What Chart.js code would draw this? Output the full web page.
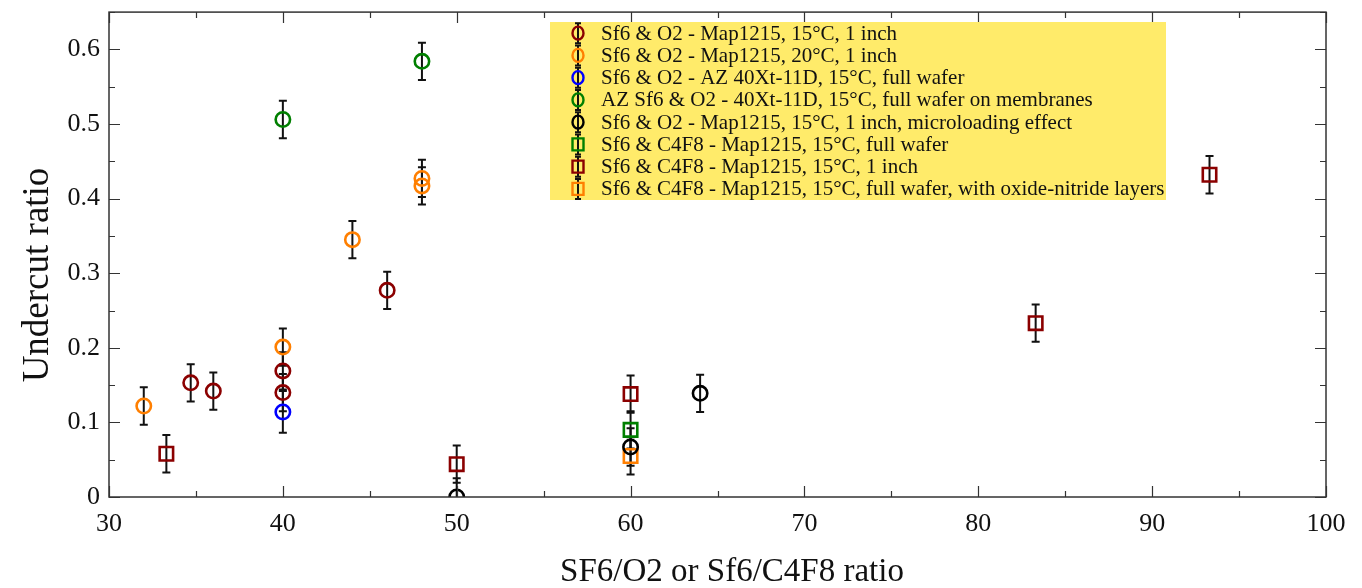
<!DOCTYPE html>
<html>
<head>
<meta charset="utf-8">
<script src="https://cdn.jsdelivr.net/npm/chart.js@4.4.1/dist/chart.umd.min.js"></script>
<style>
  html, body { margin: 0; padding: 0; background: #fff; }
  #wrap { width: 1362px; height: 588px; position: relative; }
</style>
</head>
<body>
<div id="wrap"><canvas id="chart"></canvas></div>
<script>
// values
const xLabels = [30, 40, 50, 60, 70, 80, 90, 100];
const yLabels = [0, 0.1, 0.2, 0.3, 0.4, 0.5, 0.6];

const o2_15_x = [34.7, 36, 40, 40, 46];
const o2_15_y = [0.153, 0.142, 0.169, 0.140, 0.277];
const o2_15_err = [0.025, 0.025, 0.025, 0.025, 0.025];

const o2_20_x = [32, 40, 44, 48, 48];
const o2_20_y = [0.122, 0.201, 0.345, 0.427, 0.417];
const o2_20_err = [0.025, 0.025, 0.025, 0.025, 0.025];

const azFull_x = [40];
const azFull_y = [0.114];
const azFull_err = [0.028];

const azMemb_x = [40, 48];
const azMemb_y = [0.506, 0.584];
const azMemb_err = [0.025, 0.025];

const micro_x = [50, 60, 64];
const micro_y = [0, 0.067, 0.139];
const micro_err = [0.025, 0.025, 0.025];

const c4f8Full_x = [60];
const c4f8Full_y = [0.090];
const c4f8Full_err = [0.025];

const c4f8Inch_x = [33.3, 50, 60, 83.3, 93.3];
const c4f8Inch_y = [0.058, 0.044, 0.138, 0.233, 0.432];
const c4f8Inch_err = [0.025, 0.025, 0.025, 0.025, 0.025];

const c4f8Oxide_x = [60];
const c4f8Oxide_y = [0.055];
const c4f8Oxide_err = [0.025];

const xTitle = 'SF6/O2 or Sf6/C4F8 ratio';
const yTitle = 'Undercut ratio';

const serif = "'Liberation Serif', 'Times New Roman', serif";
const DARKRED = '#8b0000', ORANGE = '#ff7f00', BLUE = '#0000ff', GREEN = '#007f00', BLACK = '#000000';

function pts(xs, ys) {
  return xs.map((x, i) => ({ x: x, y: ys[i] }));
}

function ds(label, xs, ys, errs, color, style) {
  return {
    label: label,
    data: pts(xs, ys),
    errors: errs,
    pointStyle: style,
    pointRadius: style === 'rect' ? 9.5 : 7.2,
    pointBorderWidth: 2.6,
    borderColor: color,
    pointBorderColor: color,
    backgroundColor: 'rgba(0,0,0,0)',
    pointBackgroundColor: 'rgba(0,0,0,0)',
    showLine: false,
    clip: 0
  };
}

const datasets = [
  ds('Sf6 & O2 - Map1215, 15°C, 1 inch', o2_15_x, o2_15_y, o2_15_err, DARKRED, 'circle'),
  ds('Sf6 & O2 - Map1215, 20°C, 1 inch', o2_20_x, o2_20_y, o2_20_err, ORANGE, 'circle'),
  ds('Sf6 & O2 - AZ 40Xt-11D, 15°C, full wafer', azFull_x, azFull_y, azFull_err, BLUE, 'circle'),
  ds('AZ Sf6 & O2 - 40Xt-11D, 15°C, full wafer on membranes', azMemb_x, azMemb_y, azMemb_err, GREEN, 'circle'),
  ds('Sf6 & O2 - Map1215, 15°C, 1 inch, microloading effect', micro_x, micro_y, micro_err, BLACK, 'circle'),
  ds('Sf6 & C4F8 - Map1215, 15°C, full wafer', c4f8Full_x, c4f8Full_y, c4f8Full_err, GREEN, 'rect'),
  ds('Sf6 & C4F8 - Map1215, 15°C, 1 inch', c4f8Inch_x, c4f8Inch_y, c4f8Inch_err, DARKRED, 'rect'),
  ds('Sf6 & C4F8 - Map1215, 15°C, full wafer, with oxide-nitride layers', c4f8Oxide_x, c4f8Oxide_y, c4f8Oxide_err, ORANGE, 'rect')
];

// vertical error bars, behind the markers
const errorBars = {
  id: 'errorBars',
  beforeDatasetsDraw(chart) {
    const { ctx, chartArea, scales } = chart;
    ctx.save();
    ctx.beginPath();
    ctx.rect(chartArea.left, chartArea.top, chartArea.right - chartArea.left, chartArea.bottom - chartArea.top);
    ctx.clip();
    ctx.strokeStyle = '#111';
    ctx.lineWidth = 2;
    chart.data.datasets.forEach((d) => {
      d.data.forEach((p, i) => {
        const e = d.errors[i];
        const x = scales.x.getPixelForValue(p.x);
        const y1 = scales.y.getPixelForValue(p.y - e);
        const y2 = scales.y.getPixelForValue(p.y + e);
        ctx.beginPath();
        ctx.moveTo(x, y1); ctx.lineTo(x, y2);
        ctx.moveTo(x - 4, y1); ctx.lineTo(x + 4, y1);
        ctx.moveTo(x - 4, y2); ctx.lineTo(x + 4, y2);
        ctx.stroke();
      });
    });
    ctx.restore();
  }
};

// box frame with inward ticks on all four sides, axis titles, and the yellow legend
const frameAndLegend = {
  id: 'frameAndLegend',
  afterDraw(chart) {
    const { ctx, chartArea: a, scales } = chart;
    ctx.save();
    ctx.strokeStyle = '#333';
    ctx.lineWidth = 1.5;
    ctx.strokeRect(a.left, a.top, a.right - a.left, a.bottom - a.top);
    ctx.lineWidth = 1.2;
    ctx.beginPath();
    for (let v = 30; v <= 100; v += 5) {
      const px = Math.round(scales.x.getPixelForValue(v)) + 0.5;
      const len = v % 10 === 0 ? 11 : 6;
      ctx.moveTo(px, a.bottom); ctx.lineTo(px, a.bottom - len);
      ctx.moveTo(px, a.top); ctx.lineTo(px, a.top + len);
    }
    for (let k = 0; k <= 13; k++) {
      const py = Math.round(scales.y.getPixelForValue(k * 0.05)) + 0.5;
      const len = k % 2 === 0 ? 11 : 6;
      ctx.moveTo(a.left, py); ctx.lineTo(a.left + len, py);
      ctx.moveTo(a.right, py); ctx.lineTo(a.right - len, py);
    }
    ctx.stroke();

    // axis titles
    ctx.fillStyle = '#111';
    ctx.textAlign = 'center';
    ctx.textBaseline = 'middle';
    ctx.font = '33px ' + serif;
    ctx.fillText(xTitle, 732, 572);
    ctx.save();
    ctx.translate(38, 275);
    ctx.rotate(-Math.PI / 2);
    ctx.font = '37px ' + serif;
    ctx.fillText(yTitle, 0, 0);
    ctx.restore();

    // legend
    const bx = 550, by = 22, bw = 616, bh = 178, row = bh / 8;
    ctx.fillStyle = '#ffeb6a';
    ctx.fillRect(bx, by, bw, bh);
    ctx.font = '21px ' + serif;
    ctx.textBaseline = 'middle';
    ctx.textAlign = 'left';
    chart.data.datasets.forEach((d, i) => {
      const cy = by + row * (i + 0.5);
      const cx = 578;
      ctx.strokeStyle = '#111';
      ctx.lineWidth = 2;
      ctx.beginPath();
      ctx.moveTo(cx, cy - 10); ctx.lineTo(cx, cy + 10);
      ctx.moveTo(cx - 3, cy - 10); ctx.lineTo(cx + 3, cy - 10);
      ctx.moveTo(cx - 3, cy + 10); ctx.lineTo(cx + 3, cy + 10);
      ctx.stroke();
      ctx.strokeStyle = d.borderColor;
      ctx.lineWidth = 2.4;
      ctx.beginPath();
      if (d.pointStyle === 'rect') {
        ctx.rect(cx - 5.5, cy - 6, 11, 12);
      } else {
        ctx.ellipse(cx, cy, 5.5, 6.5, 0, 0, Math.PI * 2);
      }
      ctx.stroke();
      ctx.fillStyle = '#111';
      ctx.fillText(d.label, 601, cy + 1);
    });
    ctx.restore();
  }
};

new Chart(document.getElementById('chart'), {
  type: 'scatter',
  data: { datasets: datasets },
  options: {
    responsive: true,
    maintainAspectRatio: false,
    animation: false,
    layout: { padding: { left: 0, right: 36, top: 8, bottom: 0 } },
    plugins: { legend: { display: false }, tooltip: { enabled: false } },
    scales: {
      x: {
        type: 'linear',
        min: 30,
        max: 100,
        afterFit(s) { s.height = 91; s.paddingLeft = 0; s.paddingRight = 0; },
        afterBuildTicks(s) { s.ticks = xLabels.map(v => ({ value: v })); },
        grid: { display: false, drawTicks: false },
        border: { display: false },
        ticks: { color: '#111', padding: 12, font: { family: serif, size: 26 } },
        title: { display: false }
      },
      y: {
        type: 'linear',
        min: 0,
        max: 0.65,
        afterFit(s) { s.width = 109; s.paddingTop = 0; s.paddingBottom = 0; },
        afterBuildTicks(s) { s.ticks = yLabels.map(v => ({ value: v })); },
        grid: { display: false, drawTicks: false },
        border: { display: false },
        ticks: { color: '#111', padding: 9, font: { family: serif, size: 26 } },
        title: { display: false }
      }
    }
  },
  plugins: [errorBars, frameAndLegend]
});
</script>
</body>
</html>
